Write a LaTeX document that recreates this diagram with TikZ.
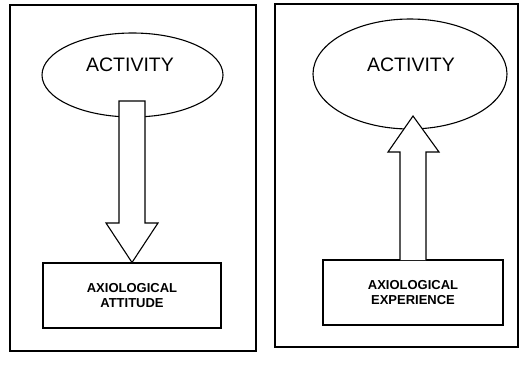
\documentclass[tikz,border=0pt]{standalone}
\usepackage{fontspec}
\setmainfont{Liberation Sans}
\usetikzlibrary{shapes.geometric}
\begin{document}
\begin{tikzpicture}[x=1pt,y=-1pt,line width=1.1pt,
  frame/.style={draw,line width=1.1pt},
  cloud/.style={draw,ellipse},
  cloudtext/.style={font=\fontsize{19.5}{22}\selectfont},
  labelbox/.style={draw,font=\bfseries\fontsize{13}{15.5}\selectfont,align=center},
  fatarrow/.style={draw,fill=white,line join=miter}]
\useasboundingbox (0,0) rectangle (521,368);
% left panel: activity shapes the attitude
\draw[frame] (10,5) rectangle (256,351);
\node[cloud,minimum width=181pt,minimum height=84pt] (actL) at (132.5,75) {};
\node[cloudtext] (actLtext) at (130,65) {ACTIVITY};
\node[labelbox,minimum width=178pt,minimum height=65pt] (boxL) at (132,295.5) {AXIOLOGICAL\\ATTITUDE};
\coordinate (tipL) at (boxL.north);
\draw[fatarrow] (119,101) -- (145,101) -- (145,223) -- (158,223) -- (tipL) -- (106,223) -- (119,223) -- cycle;
% right panel: experience feeds back into activity
\draw[frame] (275,4) rectangle (518,347);
\node[cloud,minimum width=194pt,minimum height=110pt] (actR) at (410,74) {};
\node[cloudtext] (actRtext) at (411,65) {ACTIVITY};
\node[labelbox,minimum width=180pt,minimum height=65pt] (boxR) at (413,292.5) {AXIOLOGICAL\\EXPERIENCE};
\coordinate (tipR) at (413,116);
\draw[fatarrow] (400,260) -- (400,152) -- (388,152) -- (tipR) -- (439,152) -- (426,152) -- (426,260);
\end{tikzpicture}
\end{document}
